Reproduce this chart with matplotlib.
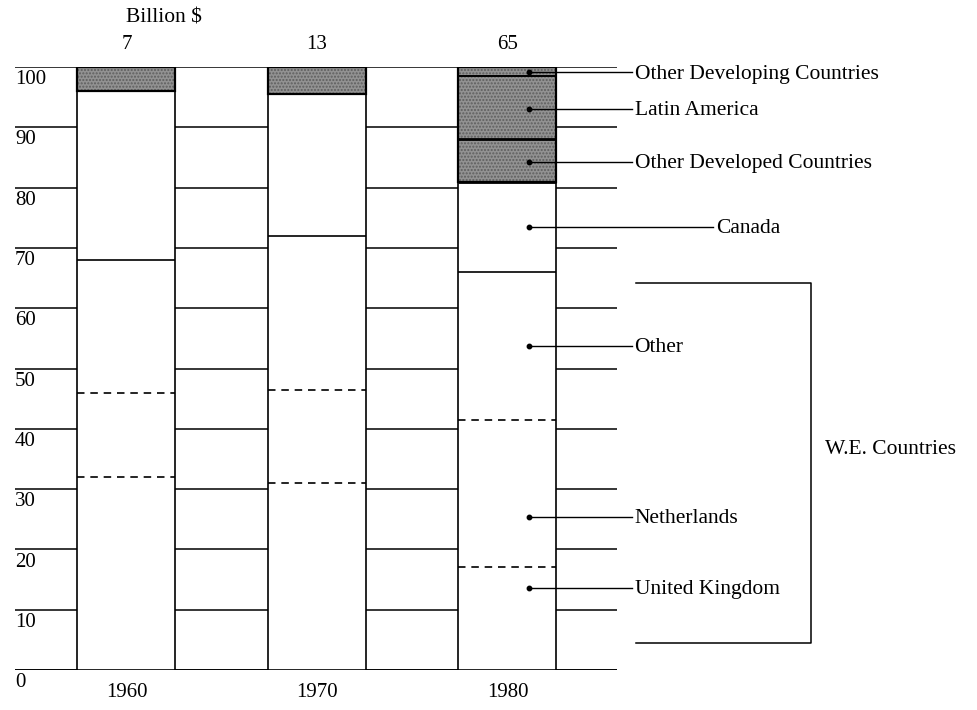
import matplotlib.pyplot as plt
import numpy as np

plt.rcParams['font.family'] = ['Liberation Serif', 'DejaVu Serif']
plt.rcParams['hatch.linewidth'] = 1.0

# Share of foreign direct investment stock, per cent of total
years = ['1960', '1970', '1980']
totals = ['7', '13', '65']  # billion $

united_kingdom = [32.0, 31.0, 17.0]
netherlands = [14.0, 15.5, 24.5]
other_we = [22.0, 25.5, 24.5]
canada = [28.0, 23.5, 15.0]
non_we_rest = [4.0, 4.5, 19.0]  # shaded block on top

# 1980 breakdown of the shaded block, bottom to top
rest_1980_names = ['Other Developed Countries', 'Latin America', 'Other Developing Countries']
rest_1980 = [7.0, 10.5, 1.5]

ticks = list(range(0, 101, 10))

BAR_W = 0.514
GRAY = '#929292'
DOTS = '#5e5e5e'
NUM_FS = 15
LBL_FS = 15.5


def shaded(ax, x, bottom, height):
    ax.bar(x, height, BAR_W, bottom=bottom, color=GRAY, linewidth=0, zorder=2)
    ax.bar(x, height, BAR_W, bottom=bottom, color='none', edgecolor=DOTS,
           hatch='.....', linewidth=0, zorder=2)


fig = plt.figure(figsize=(9.77, 7.10), dpi=100)
ax = fig.add_axes([15 / 977, 40 / 710, 602 / 977, 603 / 710])
ax.set_xlim(-0.585, 2.575)
ax.set_ylim(0, 100)
ax.axis('off')

x = np.arange(len(years))
we_top = np.array(united_kingdom) + np.array(netherlands) + np.array(other_we)
canada_top = we_top + np.array(canada)

# bars: white body with outline
ax.bar(x, canada_top, BAR_W, color='white', edgecolor='black', linewidth=1.2, zorder=2)

for i in range(len(years)):
    left, right = x[i] - BAR_W / 2, x[i] + BAR_W / 2
    uk_top = united_kingdom[i]
    nl_top = uk_top + netherlands[i]
    ax.hlines([uk_top, nl_top], left, right, colors='black', linewidth=1.2,
              linestyles=(0, (4.5, 3.5)), zorder=3)
    ax.hlines(we_top[i], left, right, colors='black', linewidth=1.2, zorder=3)

    if i < 2:
        shaded(ax, x[i], canada_top[i], non_we_rest[i])
    else:
        b = canada_top[i]
        for k, h in enumerate(rest_1980):
            shaded(ax, x[i], b, h)
            ax.hlines(b, left, right, colors='black', linewidth=2.0 if k < 2 else 1.4, zorder=3)
            b += h
    ax.bar(x[i], non_we_rest[i], BAR_W, bottom=canada_top[i], color='none',
           edgecolor='black', linewidth=1.6, zorder=3)

# scale lines drawn in the gaps left and right of each bar
xmin, xmax = ax.get_xlim()
edges = [xmin] + [v for xi in x for v in (xi - BAR_W / 2, xi + BAR_W / 2)] + [xmax]
for a, b in zip(edges[0::2], edges[1::2]):
    ax.hlines(ticks, a, b, colors='black', linewidth=1.1, zorder=1)
ax.hlines(0, xmin, xmax, colors='black', linewidth=1.2, zorder=1)

for t in ticks:
    ax.text(xmin, t - 2.1, str(t), ha='left', va='center', fontsize=NUM_FS)

for xi, yr, tot in zip(x, years, totals):
    ax.text(xi, -3.7, yr, ha='center', va='center', fontsize=NUM_FS, clip_on=False)
    ax.text(xi, 103.8, tot, ha='center', va='center', fontsize=NUM_FS, clip_on=False)
ax.text(0.197, 108.1, 'Billion $', ha='center', va='center', fontsize=LBL_FS, clip_on=False)

# labels with leader lines from the 1980 bar
labels = ['Other Developing Countries', 'Latin America', 'Other Developed Countries',
          'Canada', 'Other', 'Netherlands', 'United Kingdom']
leader_y = [99.1, 93.1, 84.3, 73.5, 53.7, 25.4, 13.6]
dot_x = 2.113
for name, ly in zip(labels, leader_y):
    end = 3.079 if name == 'Canada' else 2.653
    ax.plot([dot_x, end], [ly, ly], color='black', linewidth=1.0, zorder=4, clip_on=False)
    ax.plot(dot_x, ly, 'o', color='black', markersize=3.2, zorder=5)
    ax.text(end + 0.014, ly - 0.3, name, ha='left', va='center', fontsize=LBL_FS, clip_on=False)

# bracket around the Western European countries
bx0, bx1, by0, by1 = 2.675, 3.594, 4.5, 64.2
ax.plot([bx0, bx1, bx1, bx0], [by1, by1, by0, by0], color='black', linewidth=1.1,
        clip_on=False)
ax.text(3.667, 36.6, 'W.E. Countries', ha='left', va='center', fontsize=LBL_FS, clip_on=False)

fig.savefig('out.png', dpi=100, facecolor='white')
